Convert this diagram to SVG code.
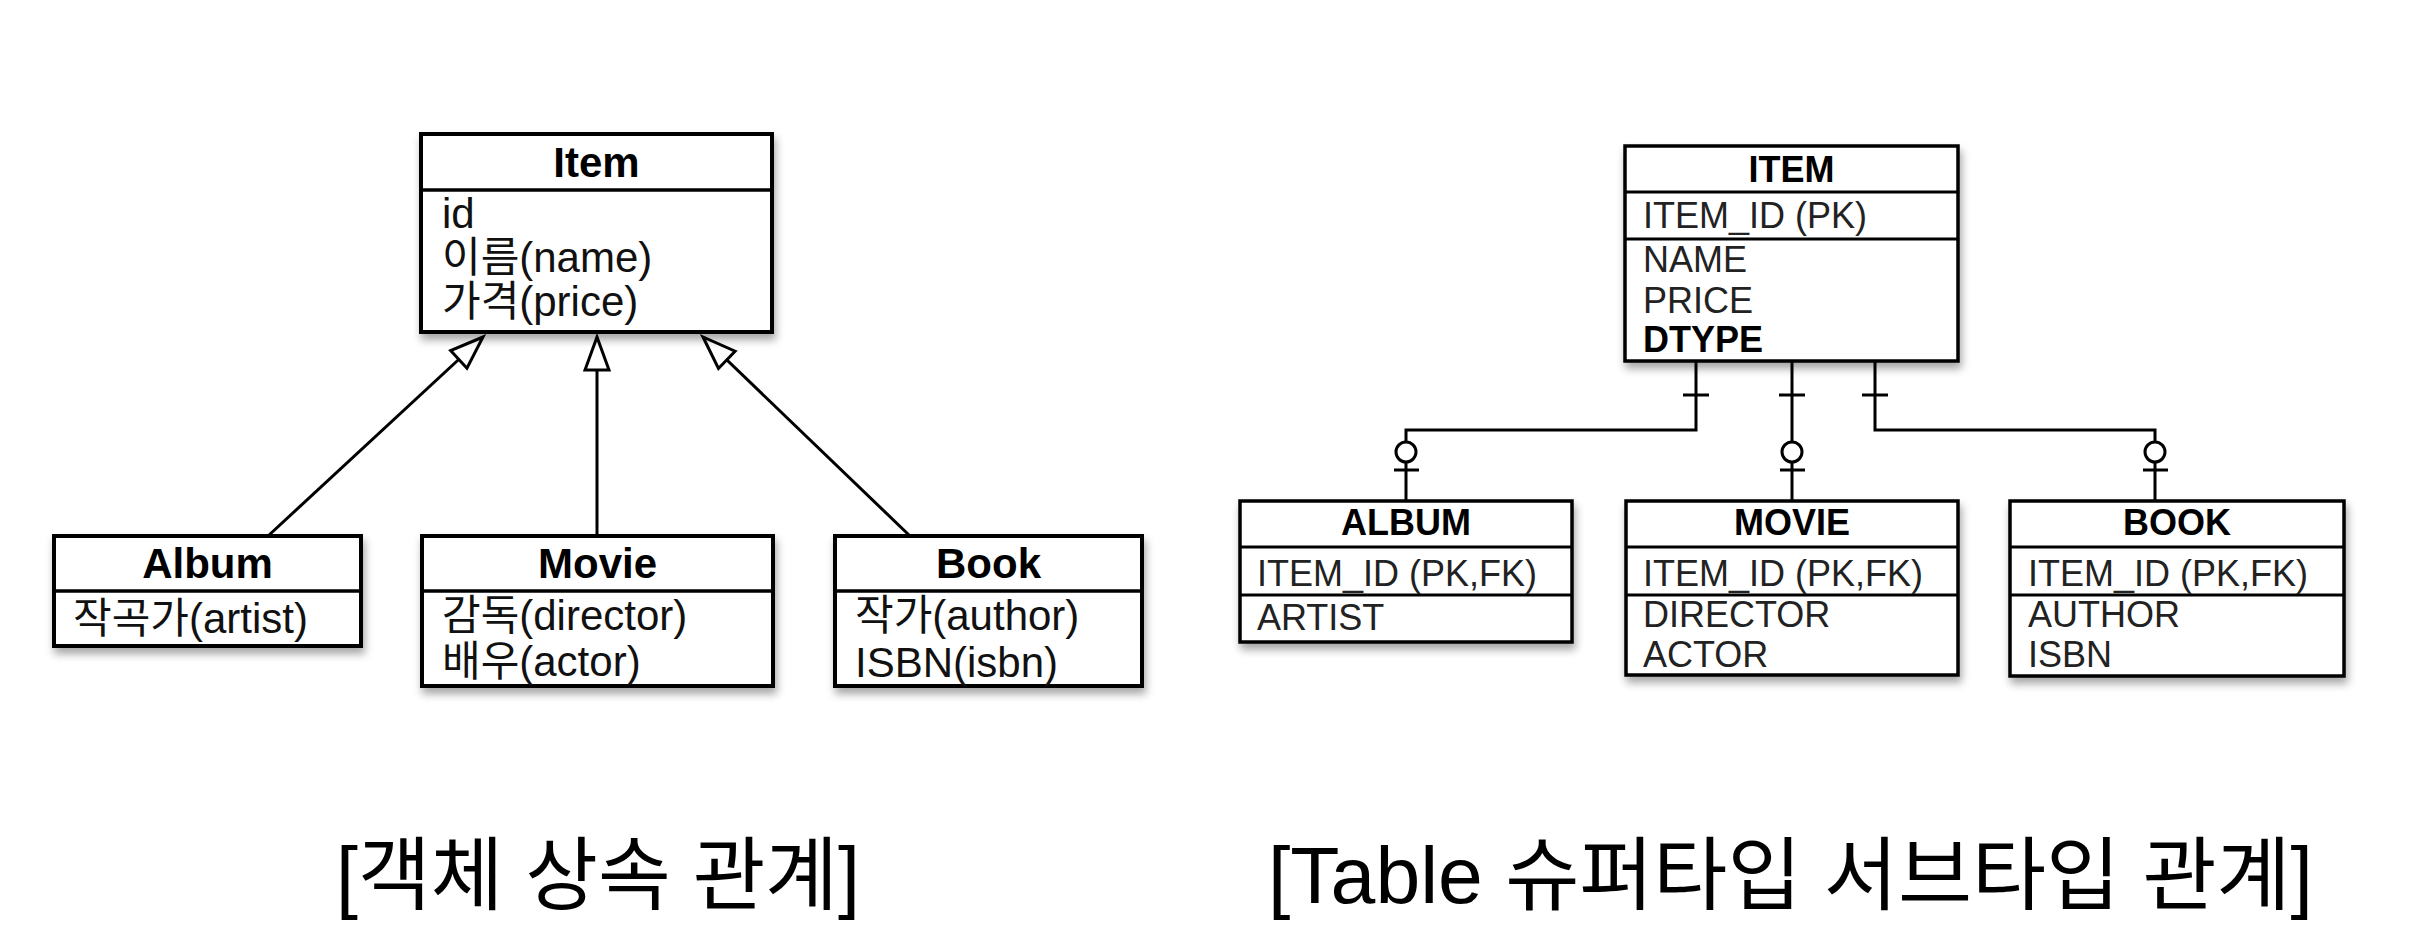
<svg xmlns="http://www.w3.org/2000/svg" width="2418" height="946" viewBox="0 0 2418 946">
<style>
.box{fill:#fff;stroke:#000;stroke-width:4;filter:url(#sh)}
.ebox{fill:#fff;stroke:#000;stroke-width:3.5;filter:url(#sh)}
.div{stroke:#000;stroke-width:3.5}
.ediv{stroke:#000;stroke-width:3}
.ut{font-family:"Liberation Sans","Noto Sans CJK KR",sans-serif;font-weight:bold;font-size:42px;text-anchor:middle;fill:#000}
.ua{font-family:"Liberation Sans","Noto Sans CJK KR",sans-serif;font-size:42px;fill:#111}
.et{font-family:"Liberation Sans",sans-serif;font-weight:bold;font-size:36px;text-anchor:middle;fill:#000}
.ea{font-family:"Liberation Sans",sans-serif;font-size:36px;fill:#222}
.eb{font-family:"Liberation Sans",sans-serif;font-size:36px;font-weight:bold;fill:#000}
.ln{fill:none;stroke:#000;stroke-width:3}
.circ{fill:#fff;stroke:#000;stroke-width:3}
.cap{font-family:"Liberation Sans","Noto Sans CJK KR",sans-serif;font-size:80px;fill:#000}
</style>
<defs>
<filter id="sh" x="-10%" y="-10%" width="125%" height="140%">
<feDropShadow dx="2" dy="6" stdDeviation="4" flood-color="#000" flood-opacity="0.35"/>
</filter>
<marker id="tri" markerUnits="userSpaceOnUse" viewBox="-40 -16 44 32" markerWidth="44" markerHeight="32" refX="0" refY="0" orient="auto">
<path d="M0,0 L-33,-12 L-33,12 Z" fill="#fff" stroke="#000" stroke-width="3" stroke-linejoin="miter"/>
</marker>
</defs>
<rect width="2418" height="946" fill="#fff"/>

<g id="connectors">
<line class="ln" x1="268" y1="536" x2="483" y2="337" marker-end="url(#tri)"/>
<line class="ln" x1="597" y1="536" x2="597" y2="337" marker-end="url(#tri)"/>
<line class="ln" x1="910" y1="536" x2="703" y2="337" marker-end="url(#tri)"/>

<path class="ln" d="M1696,361 V430 H1406 V501"/>
<line class="ln" x1="1683" y1="395" x2="1709" y2="395"/>
<line class="ln" x1="1394" y1="470" x2="1419" y2="470"/>
<circle class="circ" cx="1406" cy="452" r="10"/>

<path class="ln" d="M1792,361 V501"/>
<line class="ln" x1="1779" y1="395" x2="1805" y2="395"/>
<line class="ln" x1="1780" y1="470" x2="1805" y2="470"/>
<circle class="circ" cx="1792" cy="452" r="10"/>

<path class="ln" d="M1875,361 V430 H2155 V501"/>
<line class="ln" x1="1862" y1="395" x2="1888" y2="395"/>
<line class="ln" x1="2143" y1="470" x2="2168" y2="470"/>
<circle class="circ" cx="2155" cy="452" r="10"/>
</g>

<g id="item">
<rect class="box" x="421" y="134" width="351" height="198"/>
<line class="div" x1="421" y1="190" x2="772" y2="190"/>
<text class="ut" x="596.5" y="177">Item</text>
<text class="ua" x="442" y="228">id</text>
<text class="ua" x="442" y="272">이름(name)</text>
<text class="ua" x="442" y="316">가격(price)</text>
</g>

<g id="album">
<rect class="box" x="54" y="536" width="307" height="110"/>
<line class="div" x1="54" y1="591" x2="361" y2="591"/>
<text class="ut" x="207.5" y="578">Album</text>
<text class="ua" x="73" y="633">작곡가(artist)</text>
</g>

<g id="movie">
<rect class="box" x="422" y="536" width="351" height="150"/>
<line class="div" x1="422" y1="591" x2="773" y2="591"/>
<text class="ut" x="597.5" y="578">Movie</text>
<text class="ua" x="442" y="630">감독(director)</text>
<text class="ua" x="442" y="676">배우(actor)</text>
</g>

<g id="book">
<rect class="box" x="835" y="536" width="307" height="150"/>
<line class="div" x1="835" y1="591" x2="1142" y2="591"/>
<text class="ut" x="988.5" y="578">Book</text>
<text class="ua" x="855" y="630">작가(author)</text>
<text class="ua" x="855" y="677">ISBN(isbn)</text>
</g>

<g id="ITEM">
<rect class="ebox" x="1625" y="146" width="333" height="215"/>
<line class="ediv" x1="1625" y1="192" x2="1958" y2="192"/>
<line class="ediv" x1="1625" y1="239" x2="1958" y2="239"/>
<text class="et" x="1791.5" y="182">ITEM</text>
<text class="ea" x="1643" y="228">ITEM_ID (PK)</text>
<text class="ea" x="1643" y="272">NAME</text>
<text class="ea" x="1643" y="313">PRICE</text>
<text class="eb" x="1643" y="352">DTYPE</text>
</g>

<g id="ALBUM">
<rect class="ebox" x="1240" y="501" width="332" height="141"/>
<line class="ediv" x1="1240" y1="547" x2="1572" y2="547"/>
<line class="ediv" x1="1240" y1="595" x2="1572" y2="595"/>
<text class="et" x="1406" y="535">ALBUM</text>
<text class="ea" x="1257" y="586">ITEM_ID (PK,FK)</text>
<text class="ea" x="1257" y="630">ARTIST</text>
</g>

<g id="MOVIE">
<rect class="ebox" x="1626" y="501" width="332" height="174"/>
<line class="ediv" x1="1626" y1="547" x2="1958" y2="547"/>
<line class="ediv" x1="1626" y1="595" x2="1958" y2="595"/>
<text class="et" x="1792" y="535">MOVIE</text>
<text class="ea" x="1643" y="586">ITEM_ID (PK,FK)</text>
<text class="ea" x="1643" y="627">DIRECTOR</text>
<text class="ea" x="1643" y="667">ACTOR</text>
</g>

<g id="BOOK">
<rect class="ebox" x="2010" y="501" width="334" height="175"/>
<line class="ediv" x1="2010" y1="547" x2="2344" y2="547"/>
<line class="ediv" x1="2010" y1="595" x2="2344" y2="595"/>
<text class="et" x="2177" y="535">BOOK</text>
<text class="ea" x="2028" y="586">ITEM_ID (PK,FK)</text>
<text class="ea" x="2028" y="627">AUTHOR</text>
<text class="ea" x="2028" y="667">ISBN</text>
</g>

<g id="captions">
<text class="cap" x="336" y="903" textLength="524" lengthAdjust="spacingAndGlyphs">[객체 상속 관계]</text>
<text class="cap" x="1268" y="903" textLength="1045" lengthAdjust="spacingAndGlyphs">[Table 슈퍼타입 서브타입 관계]</text>
</g>
</svg>
